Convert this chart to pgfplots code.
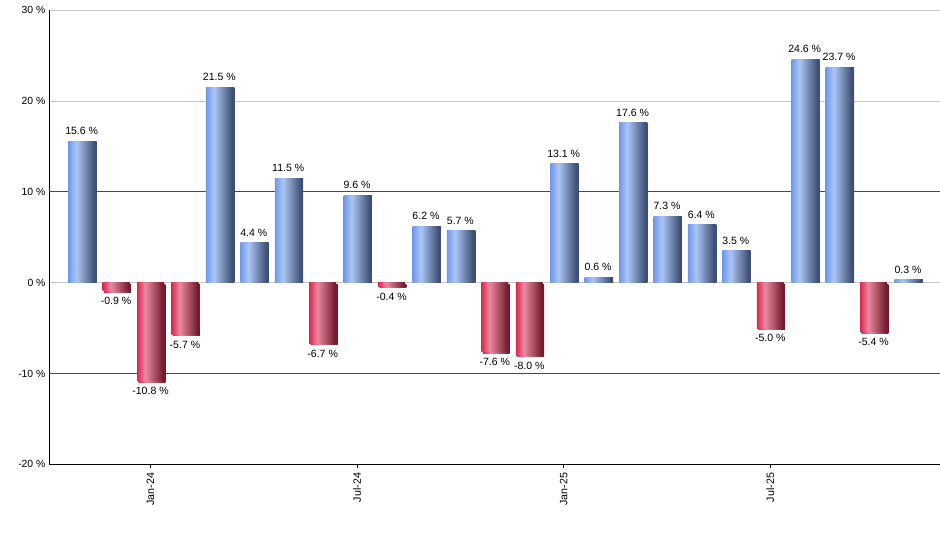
\documentclass[border=0pt]{standalone}
\usepackage{pgfplots}
\pgfplotsset{compat=1.18}
\usepackage{fontspec}
\setmainfont{Liberation Sans}

\definecolor{gridgray}{HTML}{C8C8C8}
\definecolor{gridgreen}{HTML}{127212}
\definecolor{blA}{HTML}{6E99EB}
\definecolor{blB}{HTML}{ABC6F5}
\definecolor{blC}{HTML}{3A4A6E}
\definecolor{rdA}{HTML}{DE2650}
\definecolor{rdB}{HTML}{E98AA0}
\definecolor{rdC}{HTML}{6C1626}
\definecolor{shadowgray}{HTML}{ABABAB}
\pgfdeclarehorizontalshading{barblue}{100bp}{color(0bp)=(blA); color(25bp)=(blA); color(40bp)=(blB); color(75bp)=(blC); color(100bp)=(blC)}
\pgfdeclarehorizontalshading{barred}{100bp}{color(0bp)=(rdA); color(25bp)=(rdA); color(40bp)=(rdB); color(75bp)=(rdC); color(100bp)=(rdC)}

% one plot per bar, so that every bar gets its own gradient
\pgfplotsset{
  posshadow/.style={preaction={fill=shadowgray, transform canvas={xshift=1.1pt}}},
  negshadow/.style={preaction={fill=shadowgray, transform canvas={xshift=1.1pt, yshift=-1.1pt}}},
}
\newcommand\posbar[2]{\addplot[ybar, bar shift=0pt, draw=none, posshadow, shade, shading=barblue] coordinates {(#1,#2)};}
\newcommand\negbar[2]{\addplot[ybar, bar shift=0pt, draw=none, negshadow, shade, shading=barred] coordinates {(#1,#2)};}

\begin{document}
\begin{tikzpicture}
\useasboundingbox (0,0) rectangle (705pt,412.5pt);
\begin{axis}[
    at={(37.1pt,64.3pt)}, anchor=south west,
    scale only axis,
    width=667.9pt, height=340.5pt,
    xmin=-0.935, xmax=24.93,
    ymin=-20, ymax=30,
    axis x line*=bottom, axis y line*=left,
    axis line style={black, line width=0.75pt},
    /pgf/number format/assume math mode=true,
    ytick={-20,0,20,30},
    extra y ticks={-10,10},
    extra y tick style={grid style={gridgreen, line width=0.75pt}},
    ymajorgrids,
    grid style={gridgray, line width=0.75pt},
    ytick style={draw=none},
    yticklabel={\pgfmathprintnumber{\tick}\ \%},
    yticklabel style={font=\fontsize{7.8}{9}\selectfont, xshift=3.5pt},
    xtick={2,8,14,20},
    xticklabels={Jan-24,Jul-24,Jan-25,Jul-25},
    xticklabel style={font=\fontsize{8}{9}\selectfont, rotate=90, anchor=east},
    tick align=outside,
    major tick length=3pt,
    xtick style={black, line width=0.75pt},
    bar width=0.78,
    nodes near coords={\pgfmathprintnumber[fixed,fixed zerofill,precision=1]{\pgfplotspointmeta}\ \%},
    nodes near coords align={vertical},
    every node near coord/.append style={font=\fontsize{7.9}{9}\selectfont, text=black, inner xsep=1pt, inner ysep=4.6pt},
  ]
% months Nov-23 .. Nov-25 at 0..24
\posbar{0}{15.6}
\negbar{1}{-0.9}
\negbar{2}{-10.8}
\negbar{3}{-5.7}
\posbar{4}{21.5}
\posbar{5}{4.4}
\posbar{6}{11.5}
\negbar{7}{-6.7}
\posbar{8}{9.6}
\negbar{9}{-0.4}
\posbar{10}{6.2}
\posbar{11}{5.7}
\negbar{12}{-7.6}
\negbar{13}{-8.0}
\posbar{14}{13.1}
\posbar{15}{0.6}
\posbar{16}{17.6}
\posbar{17}{7.3}
\posbar{18}{6.4}
\posbar{19}{3.5}
\negbar{20}{-5.0}
\posbar{21}{24.6}
\posbar{22}{23.7}
\negbar{23}{-5.4}
\posbar{24}{0.3}
\end{axis}
\end{tikzpicture}
\end{document}
